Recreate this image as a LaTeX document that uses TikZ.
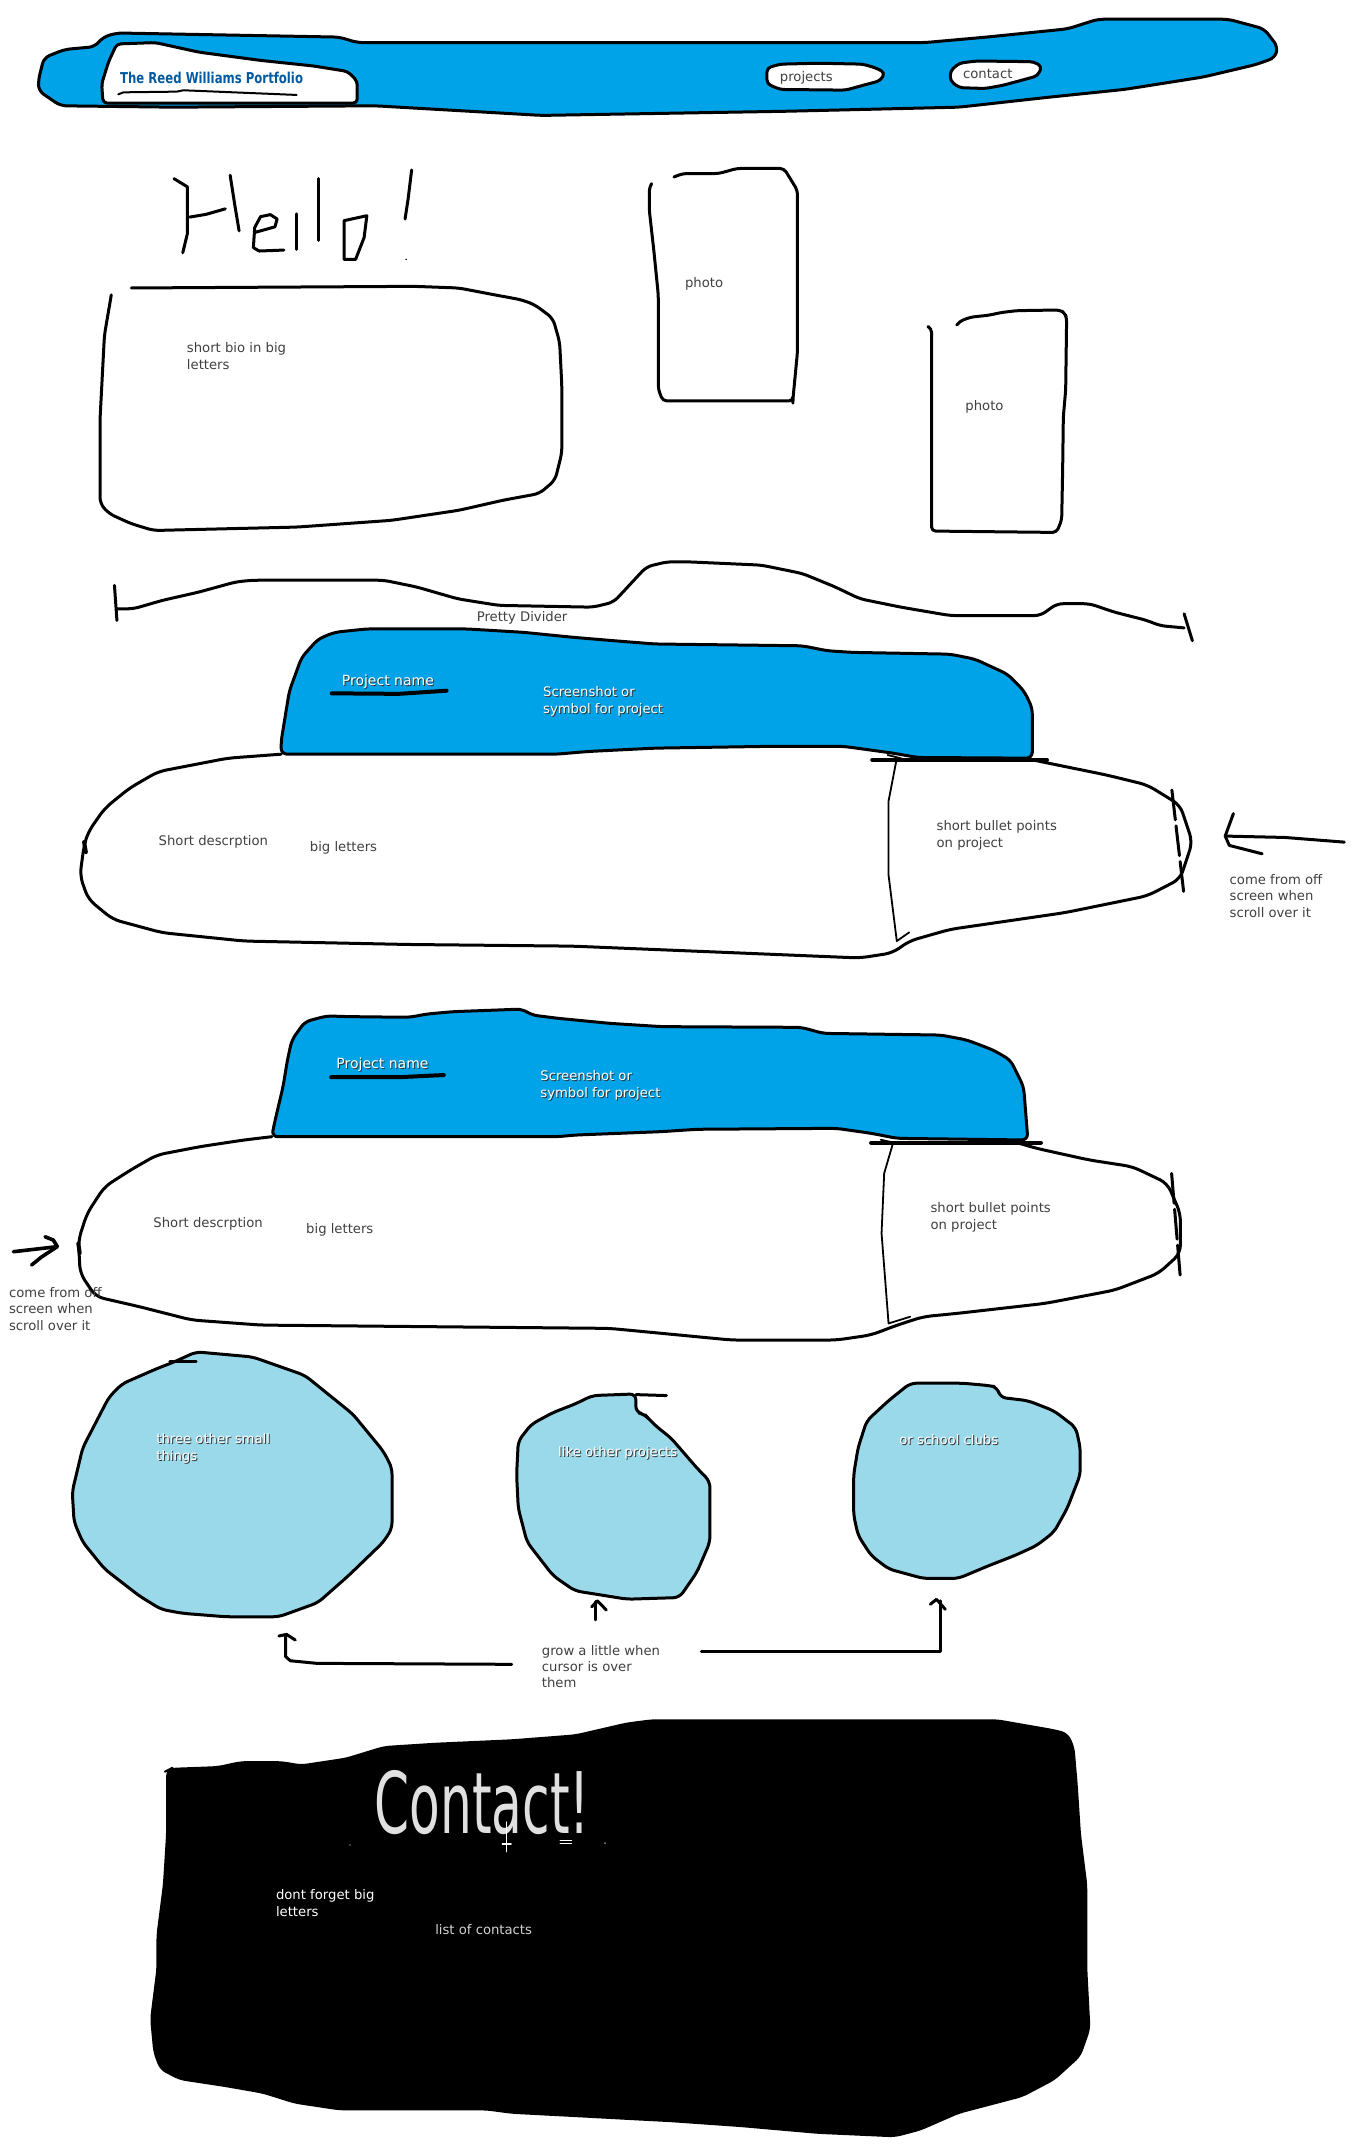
\documentclass[tikz,border=0pt]{standalone}
\usepackage{fontspec}
\setmainfont{DejaVu Sans}
\usepackage{graphicx}
\definecolor{paintblue}{RGB}{0,162,232}
\definecolor{lightturq}{RGB}{153,217,234}
\definecolor{txtgray}{RGB}{64,64,64}
\definecolor{titleblue}{RGB}{0,90,160}
\newcommand\wsh[1]{\rlap{\textcolor{black!80}{\kern0.5pt\raisebox{-0.5pt}{#1}}}\textcolor{white}{#1}}
\begin{document}
\begin{tikzpicture}[x=0.687pt,y=-0.687pt,line join=round,line cap=round,
  ink/.style={draw=black,line width=1.5pt},
  thinink/.style={draw=black,line width=0.9pt},
  lbl/.style={font=\fontsize{6.6}{8.2}\selectfont,text=txtgray,inner sep=0pt,align=left},
  wlbl/.style={font=\fontsize{6.6}{8.2}\selectfont,text=white,inner sep=0pt,align=left},
  tab/.style={ink,fill=paintblue},
  bubble/.style={ink,fill=lightturq}]
\useasboundingbox (0,0) rectangle (992,1567.7);
\fill[white] (0,0) rectangle (992,1567.7);

% ---------------- header ----------------
\path[tab,rounded corners=3pt] (28,58) -- (32,42) -- (47,36) -- (69,34) -- (75,27) -- (85,24) -- (139,25) -- (247,27) -- (260,31) -- (673,31) -- (718,27) -- (777,21) -- (799,14) -- (894,14) -- (920,21) -- (930,34) -- (928,42) -- (914,47) -- (876,56) -- (819,65) -- (761,71) -- (698,78) -- (571,81) -- (394,84) -- (273,77) -- (126,78) -- (44,77) -- (28,66) -- cycle;
\path[ink,fill=white,rounded corners=2pt] (85,32) -- (113,31) -- (145,38) -- (190,44) -- (228,48) -- (253,52) -- (260,59) -- (260,75) -- (75,75) -- (74,61) -- (79,45) -- cycle;
\draw[line width=1pt] (86.1,68.7) -- (89.8,67.2) -- (128.6,66.7) -- (133.4,65.7) -- (145.6,66.2) -- (169.8,67.2) -- (194.1,68.2) -- (215.9,69.1);
\node[inner sep=0pt,text=titleblue,font=\fontsize{7.5}{9}\selectfont\bfseries] (title) at (154,56.4) {\scalebox{0.78}[1]{The Reed Williams Portfolio}};
\path[ink,fill=white,rounded corners=2pt] (558.2,49.5) -- (567.7,46.7) -- (596.3,46) -- (628.1,46.7) -- (637.6,49.5) -- (644,52.9) -- (640.8,58.7) -- (628.1,62.1) -- (615.4,65.6) -- (567.7,65.1) -- (558.2,61) -- cycle;
\node[lbl] (projects) at (586.8,56.4) {projects};
\path[ink,fill=white,rounded corners=2pt] (698,46) -- (710.7,44.4) -- (752,44.9) -- (758.3,48.3) -- (755.2,55.2) -- (742.5,58.7) -- (729.8,62.1) -- (717,64.4) -- (698,63.8) -- (691.6,58.7) -- (691.6,51.8) -- cycle;
\node[lbl] (contact) at (718.9,54.1) {contact};

% ---------------- Hello! ----------------
\begin{scope}[line width=1.5pt]
\draw (126.6,130) -- (136.4,136) -- (136.4,170) -- (133,184);
\draw (138,158) -- (150,156) -- (164,152);
\draw (167.5,127.5) -- (171,150) -- (174,168);
\draw (185.4,169.2) -- (200.1,165.1) -- (201.7,159.4) -- (196.8,156.2) -- (189.6,157.7) -- (185.4,165.5) -- (184.4,180.2) -- (188.6,182.7) -- (206.6,182);
\draw (216,155.6) -- (216,181.5);
\draw (231.6,130) -- (231.6,175);
\draw (250.4,160.6) -- (267,157) -- (265,172.9) -- (258.8,188.8) -- (250.4,188.8) -- cycle;
\draw (299.6,123.7) -- (297,145) -- (294.8,159.4);
\end{scope}
\fill (295.6,188.8) circle (0.6);

% ---------------- bio box ----------------
\draw[ink,rounded corners=3pt] (95.6,209.6) -- (301.2,208.4) -- (333.9,209.6) -- (360,214.6) -- (379.6,218.2) -- (389.4,221.9) -- (402.4,231.7) -- (407.3,248.9) -- (408.9,280.7) -- (408.9,329.7) -- (404,349.4) -- (392.6,359.2) -- (366.5,364) -- (333.9,371.4) -- (285,378.7) -- (216.4,383.6) -- (111.9,386.1) -- (95.6,381.2) -- (79.3,373.8) -- (72.8,366.5) -- (72.8,305.2) -- (76,244) -- (81,214.6);
\node[lbl,anchor=west] (bio) at (135.8,259.2) {short bio in big\\letters};

% ---------------- photos ----------------
\draw[ink,rounded corners=2pt] (490.5,128.8) -- (497.1,126.3) -- (523.2,126.3) -- (536.3,122.6) -- (570.6,122.6) -- (580.4,138.6) -- (580.4,256.2) -- (577.1,290.5) -- (577.1,291.8) -- (482.4,291.8) -- (479.1,283.2) -- (479.1,214.6) -- (475.9,182.7) -- (472.6,153.3) -- (472.6,136.1) -- (474.2,133.7);
\node[lbl] (photo1) at (512.4,206.7) {photo};
\draw[ink,rounded corners=2pt] (696.3,236.5) -- (698,234.1) -- (706,230.9) -- (720.5,229.3) -- (727.8,227.6) -- (739.9,226.1) -- (771.5,225.6) -- (775.1,228) -- (776.3,231.7) -- (775.6,283.8) -- (773.9,303.3) -- (773.4,342) -- (772.7,378.4) -- (769,387.5) -- (723,387) -- (678,386.5) -- (678,239) -- (676,238);
\node[lbl] (photo2) at (716.5,296) {photo};

% ---------------- divider ----------------
\draw[ink,rounded corners=3pt] (85.1,443.1) -- (97,443.1) -- (118,437) -- (144.8,430.9) -- (171.7,423.5) -- (183.7,422.3) -- (279.3,422.3) -- (303.2,427.2) -- (333,435.8) -- (362.9,440.6) -- (431.6,441.9) -- (446.6,438.2) -- (470.5,412.5) -- (485.4,408.9) -- (500.4,408.9) -- (554.1,411.3) -- (584,417.4) -- (607.9,427.2) -- (625.8,435.8) -- (655.7,441.9) -- (691.5,448) -- (757.3,448) -- (769.2,439.4) -- (793.1,439.4) -- (811,445.5) -- (835,451.6) -- (843.9,455.3) -- (861.8,457);
\draw[ink] (83.3,426) -- (85.1,451.6);
\draw[ink] (861.8,446.7) -- (867.8,466.3);
\node[lbl] (divlbl) at (380,450) {Pretty Divider};

% ---------------- project card 1 ----------------
\path[tab,rounded corners=3pt] (204.6,548.9) -- (204.6,539.6) -- (210.6,502.9) -- (219.5,478.5) -- (231.5,465.1) -- (243.4,460.2) -- (267.3,457.7) -- (339,457.7) -- (380.9,460.2) -- (416.7,463.8) -- (446.6,466.3) -- (476.5,468.7) -- (584,470) -- (601.9,473.6) -- (619.9,474.8) -- (691.5,476.1) -- (709.5,479.7) -- (733.4,490.7) -- (745.3,502.9) -- (751.3,515.2) -- (751.3,551.8) -- (667.7,551.3) -- (649.7,548.1) -- (613.9,543.2) -- (560.1,543.2) -- (476.5,544.5) -- (428.7,546.9) -- (404.8,548.9) -- cycle;
\draw[line width=2pt] (634.8,553) -- (762,553);
\draw[ink,rounded corners=4pt] (204.6,548.9) -- (165.8,551.8) -- (115,561.6) -- (94,573.8) -- (76.1,588.4) -- (64.2,605.5) -- (61.2,615.3) -- (58.2,637.3) -- (64.2,654.4) -- (82.1,669.1) -- (117.95,678.8) -- (177.7,684.9) -- (297.2,687.4) -- (416.7,688.6) -- (536.2,693.5) -- (625.8,697.2) -- (649.7,693.5) -- (661.7,684.9) -- (691.5,676.4) -- (775.2,664.2) -- (835,652) -- (858.9,639.7) -- (867.8,612.9) -- (858.9,586) -- (835,571.3) -- (805.1,564) -- (769.2,556.7) -- (751.3,553);
\draw[ink,dash pattern=on 15pt off 3pt] (852.9,575) -- (861.8,652);
\draw[line width=2pt] (61.2,612.9) -- (62.5,620.2);
\draw[thinink] (652.7,551.8) -- (646.7,583) -- (646.7,637) -- (652.7,684.9) -- (661.7,678.6);
\draw[thinink] (646,549.5) -- (656,552);
\node[wlbl,font=\fontsize{7}{8.2}\selectfont] (pname1) at (282.3,496.8) {\wsh{Project name}};
\draw[line width=2pt] (241.4,504.6) -- (290,505) -- (325,502.7);
\node[wlbl,anchor=west] (shot1) at (395,510.7) {\wsh{Screenshot or}\\\wsh{symbol for project}};
\node[lbl] (sdesc1) at (155.3,612.9) {Short descrption};
\node[lbl] (big1) at (250,617.3) {big letters};
\node[lbl,anchor=west] (bullet1) at (681.4,608) {short bullet points\\on project};
\node[lbl,anchor=west] (come1) at (894.7,652.1) {come from off\\screen when\\scroll over it};
\draw[ink] (978.4,612.9) -- (935,609.5) -- (891.7,608.5);
\draw[ink] (897.7,592.1) -- (891.7,608.5) -- (894.7,615.3) -- (918.6,621.4);

% ---------------- project card 2 ----------------
\path[tab,rounded corners=3pt] (197.8,827.3) -- (199.7,817.6) -- (206,790.9) -- (209.2,771.5) -- (212.4,756.9) -- (221.9,743.6) -- (237.8,739.4) -- (253.6,739.9) -- (298,740.4) -- (310.7,738) -- (329.7,736.3) -- (380.4,734.4) -- (386.7,738.7) -- (405.8,741.1) -- (443.8,744.8) -- (481.8,747.2) -- (583.3,747.7) -- (599.1,752.1) -- (684.7,753.3) -- (703.7,756.9) -- (722.8,764.2) -- (735.4,771.5) -- (745,790.9) -- (748.1,829.7) -- (653,828.5) -- (634,824.8) -- (608.6,821.2) -- (507.2,821.9) -- (481.8,823.6) -- (418.4,826.1) -- (405.8,827.3) -- cycle;
\draw[line width=2pt] (634,831.6) -- (757.6,831.6);
\draw[ink,rounded corners=4pt] (197.8,827.3) -- (177.5,829.7) -- (145.8,834.5) -- (114.1,840.6) -- (95.1,851.5) -- (76.1,863.7) -- (63.4,883.1) -- (57.1,902.5) -- (58.3,926.7) -- (69.7,943.7) -- (101.4,951) -- (139.5,960.7) -- (190.2,964.4) -- (317,965.6) -- (443.8,966.8) -- (532.6,975.3) -- (608.6,975.3) -- (634,971.6) -- (653,964.4) -- (672,958.3) -- (697.4,955.8) -- (760.8,948.6) -- (811.5,938.9) -- (843.2,926.7) -- (859.1,912.2) -- (859.1,883.1) -- (849.6,861.2) -- (824.2,849.1) -- (792.5,844.2) -- (754.5,835.8) -- (740,831.6);
\draw[ink,dash pattern=on 15pt off 3pt] (852.7,854) -- (859,929.2);
\draw[line width=2pt] (57,905) -- (58,912);
\draw[thinink] (649.9,832.1) -- (643.5,854) -- (641.6,897.6) -- (646.7,963.2) -- (662.5,958.3);
\draw[thinink] (641,829.5) -- (652,832);
\node[wlbl,font=\fontsize{7}{8.2}\selectfont] (pname2) at (278.4,775.1) {\wsh{Project name}};
\draw[line width=2pt] (241,784) -- (290,784) -- (323,782.4);
\node[wlbl,anchor=west] (shot2) at (393,790.2) {\wsh{Screenshot or}\\\wsh{symbol for project}};
\node[lbl] (sdesc2) at (151.5,890.8) {Short descrption};
\node[lbl] (big2) at (247.3,895.2) {big letters};
\node[lbl,anchor=west] (bullet2) at (677,886.1) {short bullet points\\on project};
\node[lbl,anchor=west] (come2) at (6.3,952.6) {come from off\\screen when\\scroll over it};
\draw[ink,line width=1.8pt] (9.7,911) -- (41.7,907.3);
\draw[ink,line width=1.8pt] (32.8,900.1) -- (38.8,902.5) -- (41.7,907.3) -- (30,915) -- (23,920.7);

% ---------------- bubbles ----------------
\path[bubble,rounded corners=3pt] (142.7,983.9) -- (183.9,987.6) -- (221.9,1001) -- (256.8,1029.2) -- (279,1056.2) -- (285.3,1068.4) -- (285.3,1112.5) -- (279,1122.3) -- (253.6,1146.8) -- (231.4,1166.4) -- (202.9,1176.7) -- (164.8,1176.7) -- (133.1,1174.2) -- (117.3,1171.3) -- (101.4,1161.5) -- (76.1,1141.9) -- (60.2,1122.3) -- (53.9,1107.6) -- (52.6,1085.6) -- (60.2,1053.7) -- (79.3,1016.9) -- (88.8,1007.2) -- (114.1,996.1) -- (126.8,991.2) -- cycle;
\draw[ink] (123.6,991.2) -- (142.7,991.2);
\path[bubble,rounded corners=3pt] (431.1,1015.7) -- (462.8,1014.5) -- (462.8,1028) -- (469.2,1029.2) -- (472.3,1032.9) -- (478.7,1039) -- (488.2,1046.4) -- (497.7,1057.4) -- (507.2,1068.4) -- (516.7,1078.2) -- (516.7,1122.3) -- (507.2,1144.3) -- (494.5,1162.7) -- (456.5,1163.9) -- (418.4,1157.8) -- (402.6,1146.8) -- (393.1,1134.6) -- (383.6,1122.3) -- (377.2,1097.8) -- (376,1073.3) -- (377.2,1048.8) -- (386.7,1036.6) -- (402.6,1028) -- (418.4,1021.9) -- cycle;
\draw[ink] (462.8,1015) -- (485,1015.7);
\path[bubble,rounded corners=3pt] (662.5,1006.7) -- (700.6,1006.7) -- (719.6,1008.4) -- (725.9,1009.6) -- (727.8,1017) -- (748.1,1019.4) -- (767.1,1026.8) -- (783,1039) -- (786.2,1053.7) -- (786.2,1073.3) -- (776.7,1097.8) -- (767.1,1115) -- (754.5,1124.8) -- (738.6,1132.1) -- (719.6,1139.5) -- (697.4,1148.8) -- (672,1148.8) -- (646.7,1141.9) -- (634,1132.1) -- (624.5,1117.4) -- (621.3,1102.7) -- (621.3,1073.3) -- (624.5,1053.7) -- (630.8,1034.1) -- (646.7,1019.4) -- cycle;
\node[wlbl,anchor=west] (b1txt) at (113.5,1054.5) {\wsh{three other small}\\\wsh{things}};
\node[wlbl,anchor=west] (b2txt) at (406,1057.5) {\wsh{like other projects}};
\node[wlbl,anchor=west] (b3txt) at (654.3,1048.3) {\wsh{or school clubs}};
\node[lbl,anchor=west] (grow) at (394.1,1213) {grow a little when\\cursor is over\\them};
\draw[ink] (372.4,1211.3) -- (230.7,1210.6) -- (211.3,1208.7) -- (207.9,1205.7) -- (207.9,1190);
\draw[ink] (203,1190.7) -- (208.5,1189.5) -- (214.9,1193.6);
\draw[ink] (433.5,1179) -- (433.5,1165.7);
\draw[ink] (430.7,1169.4) -- (434.9,1165.2) -- (441.3,1171.8);
\draw[ink] (510.4,1201.9) -- (684.7,1201.9) -- (684.7,1165.2);
\draw[ink] (677.1,1167.6) -- (681.6,1164) -- (688,1171.3);

% ---------------- contact blob ----------------
\path[fill=black,draw=black,line width=1pt,rounded corners=3pt] (123.9,1287.4) -- (158.7,1286.1) -- (175,1282.5) -- (205.2,1282.5) -- (219.1,1284.9) -- (251.7,1280) -- (279.5,1271.5) -- (316.7,1269.1) -- (372.5,1266.6) -- (418.9,1263) -- (456.1,1254.4) -- (474.7,1252) -- (725.6,1252) -- (767.4,1259.3) -- (776.7,1261.7) -- (781.3,1271.5) -- (783.6,1298.4) -- (786,1335) -- (790.6,1371.6) -- (790.6,1396) -- (790.6,1432.7) -- (792.9,1476.6) -- (786,1496.2) -- (767.4,1513.2) -- (744.1,1525.5) -- (697.7,1537.7) -- (669.8,1549.9) -- (651.2,1554.8) -- (595.5,1552.3) -- (539.7,1547.4) -- (488.6,1543.8) -- (465.4,1542.6) -- (418.9,1540.1) -- (372.5,1537.7) -- (353.9,1535.2) -- (247,1535.2) -- (214.5,1530.3) -- (191.3,1523) -- (163.4,1518.1) -- (130.9,1513.2) -- (116.9,1505.9) -- (112.3,1493.7) -- (110,1469.3) -- (114.6,1432.7) -- (114.6,1408.2) -- (119.3,1371.6) -- (121.6,1335) -- (121.6,1288.6) -- cycle;
\node[inner sep=0pt,text=white!88!black] (contacttitle) at (351,1312) {\scalebox{0.59}[1]{\fontsize{42.5}{42.5}\selectfont Contact!}};
\draw[white,line width=0.6pt] (368.8,1326) -- (368.8,1347.7);
\draw[white,line width=0.6pt] (365.5,1342) -- (372,1342);
\draw[white,line width=0.5pt] (407.6,1339.2) -- (416.1,1339.2);
\draw[white,line width=0.5pt] (407.6,1341.6) -- (416.1,1341.6);
\fill[white] (254.7,1342.8) circle (0.5);
\fill[white] (440.3,1341.4) circle (0.5);
\node[wlbl,anchor=west] (forget) at (200.6,1385.1) {dont forget big\\letters};
\node[lbl,text=white!82!black] (listc) at (352,1404.6) {list of contacts};
\end{tikzpicture}
\end{document}
